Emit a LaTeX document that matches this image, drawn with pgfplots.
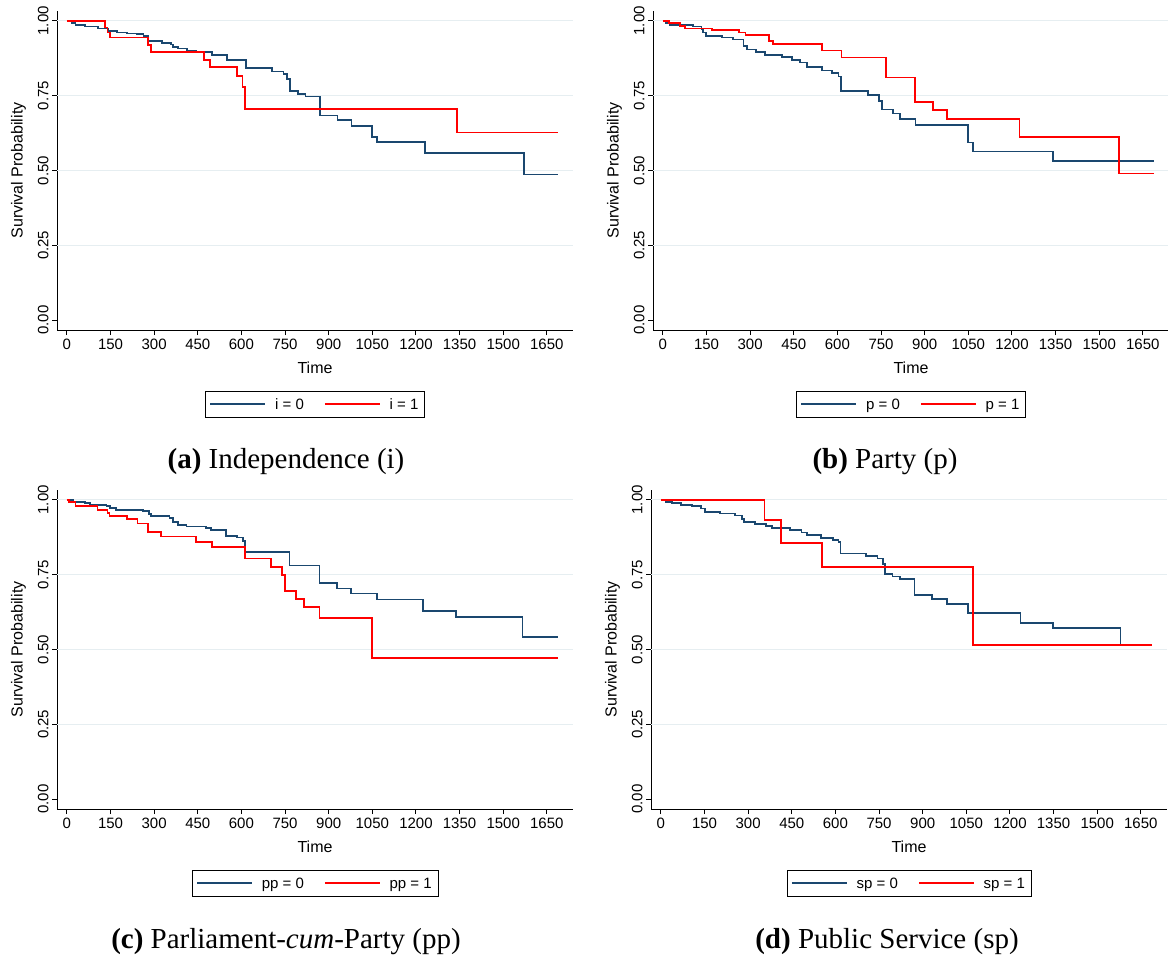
\documentclass[border=0pt]{standalone}
\usepackage{pgfplots}
\pgfplotsset{compat=1.18}
\usepackage{fontspec}
\setmainfont{Liberation Sans}
\newfontfamily\capfont{Liberation Serif}
\definecolor{stnavy}{HTML}{1A476F}
\definecolor{stred}{HTML}{FF0000}
\definecolor{stgrid}{HTML}{E6EEF1}

\pgfplotsset{
  km/.style={
    scale only axis, width=516pt, height=319pt,
    xmin=-34, xmax=1740, ymin=-0.033, ymax=1.033,
    axis x line*=bottom, axis y line*=left,
    axis line style={black, line width=1pt},
    tick align=outside, major tick length=5pt,
    tick style={black, line width=1pt},
    xtick={0,150,...,1650},
    ytick={0,0.25,0.5,0.75,1},
    extra y ticks={0.25,0.5,0.75,1}, extra y tick labels={},
    extra y tick style={grid=major, major tick length=0pt},
    grid style={stgrid, line width=1pt},
    /pgf/number format/assume math mode=true,
    tick label style={font=\fontsize{15}{15}\selectfont},
    xticklabel style={/pgf/number format/1000 sep={}},
    yticklabel style={rotate=90, anchor=south,
      /pgf/number format/.cd, fixed, fixed zerofill, precision=2},
    xlabel={Time}, ylabel={Survival Probability},
    every axis x label/.style={at={(axis description cs:0.5,-0.1176)}, anchor=center,
      font=\fontsize{16}{16}\selectfont},
    every axis y label/.style={at={(axis description cs:-0.0746,0.5)}, anchor=center, rotate=90,
      font=\fontsize{16}{16}\selectfont},
    legend columns=2,
    legend style={at={(0.5,-0.191)}, anchor=north, draw=black,
      font=\fontsize{15}{15}\selectfont, inner xsep=4pt, inner ysep=5pt,
      nodes={inner sep=2pt, text height=11pt, text depth=1pt}},
    legend image code/.code={\draw[line width=1.6pt, #1] (0pt,0pt) -- (55pt,0pt);},
  },
  s0/.style={color=stnavy, line width=1.7pt, const plot, no marks},
  s1/.style={color=stred, line width=1.7pt, const plot, no marks},
}
\tikzset{every odd column/.style={column sep=7pt}, every even column/.style={column sep=18pt}}

\begin{document}
\begin{tikzpicture}
\path[use as bounding box] (0pt,0pt) rectangle (1168pt,-958pt);

% (a) independence
\begin{axis}[km, at={(57pt,-330pt)}, anchor=south west]
\addplot[s0] coordinates {(0,1)(16,0.992)(30,0.986)(62,0.981)(108,0.975)(143,0.966)(172,0.961)(206,0.958)(240,0.955)(263,0.949)(280,0.932)(326,0.927)(358,0.921)(366,0.913)(383,0.908)(412,0.901)(446,0.896)(498,0.887)(550,0.870)(616,0.842)(705,0.831)(745,0.822)(757,0.805)(768,0.766)(794,0.756)(820,0.747)(870,0.684)(930,0.668)(978,0.649)(1050,0.613)(1066,0.596)(1230,0.558)(1572,0.487)(1690,0.487)};
\addplot[s1] coordinates {(0,1)(130,0.978)(140,0.961)(149,0.944)(278,0.919)(289,0.896)(472,0.870)(493,0.845)(586,0.816)(604,0.778)(612,0.705)(1340,0.627)(1690,0.627)};
\legend{i = 0, i = 1}
\end{axis}

% (b) party
\begin{axis}[km, at={(653pt,-330pt)}, anchor=south west]
\addplot[s0] coordinates {(0,1)(10,0.992)(24,0.986)(104,0.981)(133,0.972)(139,0.961)(148,0.949)(202,0.944)(242,0.938)(277,0.916)(288,0.904)(320,0.896)(351,0.887)(409,0.880)(443,0.870)(472,0.861)(495,0.846)(547,0.834)(581,0.825)(604,0.814)(612,0.766)(704,0.752)(742,0.733)(753,0.704)(790,0.690)(816,0.673)(868,0.653)(1050,0.594)(1066,0.563)(1341,0.532)(1690,0.532)};
\addplot[s1] coordinates {(0,1)(20,0.992)(60,0.983)(77,0.975)(169,0.970)(261,0.961)(284,0.952)(364,0.932)(379,0.923)(548,0.901)(614,0.878)(766,0.811)(867,0.730)(929,0.702)(977,0.673)(1226,0.613)(1569,0.490)(1690,0.490)};
\legend{p = 0, p = 1}
\end{axis}

% (c) parliament-cum-party
\begin{axis}[km, at={(57pt,-809pt)}, anchor=south west]
\addplot[s0] coordinates {(0,1)(22,0.994)(62,0.989)(79,0.984)(136,0.979)(148,0.973)(170,0.967)(262,0.962)(282,0.953)(290,0.945)(353,0.939)(365,0.925)(382,0.917)(411,0.911)(479,0.905)(496,0.899)(548,0.880)(585,0.874)(605,0.863)(613,0.827)(765,0.781)(868,0.723)(928,0.704)(976,0.687)(1065,0.667)(1225,0.629)(1337,0.608)(1566,0.541)(1690,0.541)};
\addplot[s1] coordinates {(0,1)(8,0.992)(30,0.979)(105,0.967)(140,0.956)(146,0.945)(206,0.936)(243,0.921)(280,0.893)(323,0.878)(443,0.860)(499,0.843)(613,0.804)(702,0.776)(740,0.750)(751,0.696)(788,0.668)(816,0.642)(868,0.606)(1048,0.472)(1690,0.472)};
\legend{pp = 0, pp = 1}
\end{axis}

% (d) public service
\begin{axis}[km, at={(651pt,-809pt)}, anchor=south west]
\addplot[s0] coordinates {(0,1)(18,0.994)(37,0.989)(69,0.984)(107,0.980)(139,0.971)(152,0.959)(203,0.954)(254,0.948)(279,0.937)(286,0.925)(324,0.919)(362,0.912)(381,0.905)(445,0.899)(483,0.891)(502,0.883)(551,0.872)(592,0.865)(611,0.860)(617,0.821)(706,0.812)(745,0.804)(764,0.786)(770,0.752)(796,0.744)(821,0.735)(872,0.682)(933,0.669)(983,0.652)(1055,0.623)(1236,0.588)(1348,0.572)(1580,0.516)(1690,0.516)};
\addplot[s1] coordinates {(0,1)(356,0.933)(413,0.855)(553,0.776)(1072,0.516)(1690,0.516)};
\legend{sp = 0, sp = 1}
\end{axis}

% captions
\begin{scope}[every node/.style={anchor=base, font=\capfont\fontsize{29}{29}\selectfont, inner sep=0pt}]
\node at (286pt,-468pt) {\textbf{(a)} Independence (i)};
\node at (885pt,-468pt) {\textbf{(b)} Party (p)};
\node at (286pt,-948pt) {\textbf{(c)} Parliament-\textit{cum}-Party (pp)};
\node at (887pt,-948pt) {\textbf{(d)} Public Service (sp)};
\end{scope}
\end{tikzpicture}
\end{document}
